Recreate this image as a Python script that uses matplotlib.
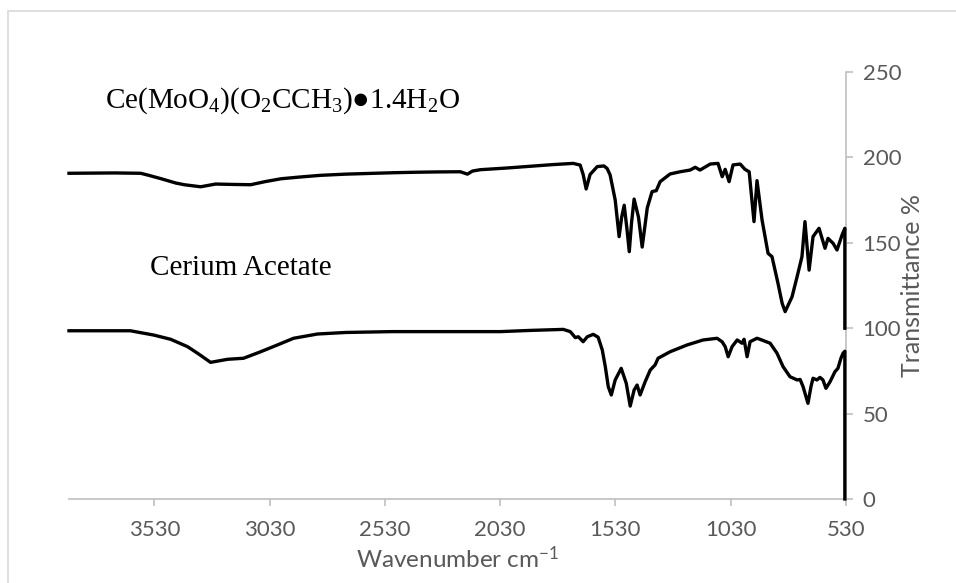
import matplotlib
matplotlib.use("Agg")
import matplotlib.pyplot as plt
from matplotlib.patches import Rectangle

# wavenumber (cm-1) and plotted transmittance (%)
wn_mo = [3900, 3700, 3589, 3554, 3500, 3437, 3400, 3329, 3264, 3200, 3112, 3050,
         2980, 2900, 2809, 2700, 2600, 2500, 2400, 2300, 2203, 2172, 2150, 2116,
         2000, 1900, 1800, 1713, 1683, 1670, 1657, 1640, 1609, 1580, 1566, 1553,
         1531, 1514, 1503, 1492, 1480, 1470, 1460, 1449, 1430, 1414, 1400, 1392,
         1371, 1353, 1336, 1293, 1249, 1206, 1184, 1163, 1119, 1085, 1067, 1054,
         1037, 1020, 989, 968, 950, 929, 916, 894, 868, 851, 825, 807, 794, 764,
         742, 721, 708, 690, 673, 647, 621, 608, 586, 569, 547, 535, 535]
tr_mo = [190.7, 190.9, 190.7, 189.5, 187.5, 185.0, 184.0, 182.8, 184.4, 184.2, 184.0, 185.8,
         187.5, 188.5, 189.5, 190.2, 190.6, 191.0, 191.3, 191.5, 191.6, 190.2, 192.0, 192.8,
         193.8, 194.8, 195.8, 196.5, 195.5, 190.0, 181.5, 190.0, 194.6, 195.0, 193.5, 189.7,
         175.0, 153.6, 165.0, 172.0, 158.0, 144.8, 162.0, 175.6, 165.0, 147.5, 162.0, 170.4,
         180.0, 180.5, 185.8, 190.3, 191.6, 192.6, 194.2, 192.6, 196.1, 196.5, 188.7, 193.0,
         185.8, 195.6, 196.1, 193.0, 191.6, 162.4, 186.4, 163.3, 143.8, 141.9, 126.3, 114.6, 109.7, 118.4,
         130.2, 141.9, 162.4, 134.0, 153.6, 158.5, 146.8, 152.6, 149.7, 145.8, 154.6, 158.5, 100.0]

wn_ac = [3900, 3634, 3533, 3459, 3386, 3342, 3286, 3212, 3143, 3069, 2996, 2926,
         2822, 2700, 2500, 2300, 2029, 1900, 1756, 1726, 1704, 1691, 1670, 1652,
         1626, 1605, 1587, 1574, 1561, 1548, 1531, 1505, 1483, 1466, 1449, 1436,
         1423, 1401, 1379, 1358, 1345, 1293, 1219, 1150, 1089, 1067, 1054, 1041,
         1024, 1002, 981, 972, 959, 946, 916, 903, 859, 829, 803, 773, 742, 729,
         716, 695, 682, 673, 656, 643, 630, 617, 599, 578, 565, 552, 543, 535, 535]
tr_ac = [98.5, 98.5, 96.0, 93.5, 89.2, 85.3, 80.0, 81.8, 82.4, 86.2, 90.2, 94.1,
         96.6, 97.5, 98.0, 98.0, 98.0, 98.7, 99.3, 98.0, 94.5, 95.0, 92.1, 95.0,
         96.4, 94.7, 87.2, 77.5, 65.7, 60.9, 69.7, 76.5, 67.7, 54.4, 63.8, 66.7,
         60.9, 68.7, 75.5, 78.5, 82.4, 86.2, 90.2, 93.1, 94.1, 92.0, 89.2, 83.3,
         89.2, 93.1, 91.2, 93.5, 83.3, 92.1, 94.1, 93.5, 91.2, 85.3, 77.5, 71.6, 69.7, 70.0,
         65.7, 56.0, 65.7, 70.7, 69.7, 71.2, 69.7, 64.8, 68.7, 74.5, 76.5, 82.4, 85.3, 86.5, 0.0]

x_ticks = [3530, 3030, 2530, 2030, 1530, 1030, 530]
y_ticks = [0, 50, 100, 150, 200, 250]

grey = "#595959"
axis_grey = "#bfbfbf"
sans = ["Lato", "DejaVu Sans"]
serif = ["Liberation Serif", "DejaVu Serif"]

fig = plt.figure(figsize=(9.56, 5.83), dpi=100)
ax = fig.add_axes([69 / 956, 1 - 499 / 583, (846 - 69) / 956, (499 - 72) / 583])

ax.plot(wn_mo, tr_mo, color="black", lw=2.4, solid_joinstyle="round", clip_on=False)
ax.plot(wn_ac, tr_ac, color="black", lw=2.4, solid_joinstyle="round", clip_on=False)

ax.set_xlim(3900, 530)
ax.set_ylim(0, 250)
ax.set_xticks(x_ticks)
ax.set_yticks(y_ticks)

for s in ["top", "left"]:
    ax.spines[s].set_visible(False)
for s in ["bottom", "right"]:
    ax.spines[s].set_color(axis_grey)
    ax.spines[s].set_linewidth(1.2)
    ax.spines[s].set_zorder(0)

ax.yaxis.tick_right()
ax.yaxis.set_label_position("right")
ax.tick_params(axis="both", direction="out", length=5, width=1.2, color=axis_grey,
               labelcolor=grey, labelsize=16)
ax.tick_params(axis="x", pad=10)
ax.tick_params(axis="y", pad=7)
for lab in ax.get_xticklabels() + ax.get_yticklabels():
    lab.set_family(sans)

ax.set_xlabel(r"Wavenumber cm$\mathregular{^{-1}}$", color=grey, fontsize=17.5, family=sans, labelpad=4)
ax.set_ylabel("Transmittance %", color=grey, fontsize=18, family=sans, labelpad=0)

ax.text(3745, 233,
        r"Ce(MoO$\mathregular{_4}$)(O$\mathregular{_2}$CCH$\mathregular{_3}$)●1.4H$\mathregular{_2}$O",
        fontsize=21, family=serif, va="center", ha="left")
ax.text(3550, 135, "Cerium Acetate", fontsize=21, family=serif, va="center", ha="left")

# light chart-area border
fig.patches.append(Rectangle((8 / 956, -0.1), 2, 1 - 11 / 583 + 0.1, transform=fig.transFigure,
                             fill=False, edgecolor="#d9d9d9", lw=1.2))

fig.savefig("out.png", dpi=100)
